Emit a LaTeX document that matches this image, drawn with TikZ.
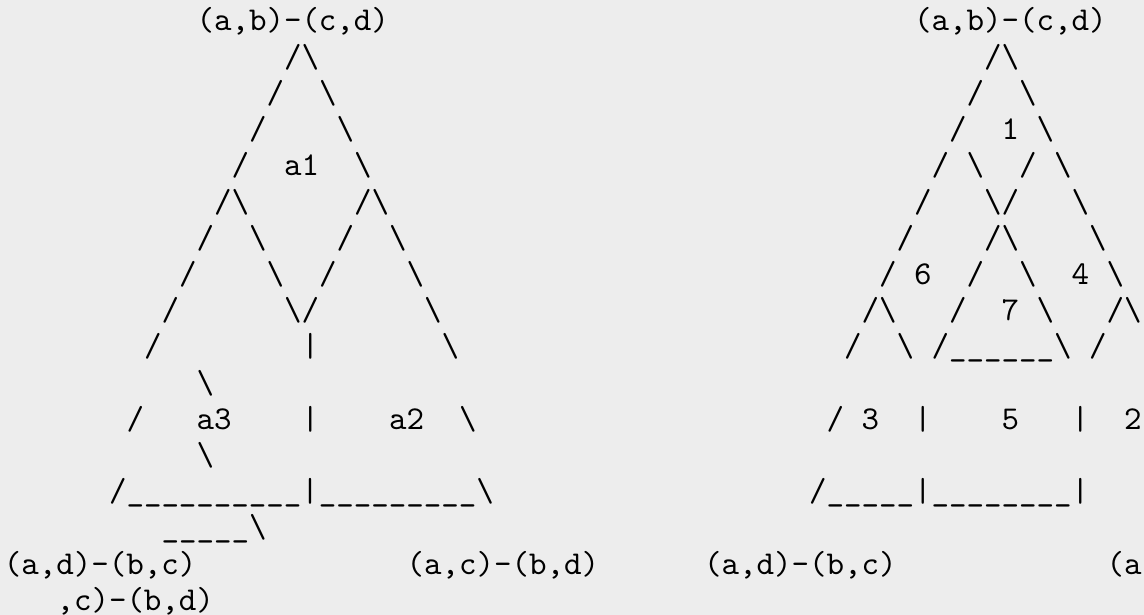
\documentclass[tikz,border=0pt]{standalone}
\usepackage{fontspec}
\newfontfamily\asciifont{lmmono10-regular.otf}
\newcommand\BSL{\textbackslash}
\newcommand\USC{\_}
\newcommand\USCv{\USC\USC\USC\USC\USC}
\definecolor{bgc}{HTML}{EDEDED}
\tikzset{txt/.style={anchor=base west, inner sep=0pt, outer sep=0pt, text=black,
  font=\asciifont\fontsize{33.333pt}{36pt}\selectfont}}
\begin{document}
\begin{tikzpicture}[x=17.5pt, y=-36.2pt]
\fill[bgc] (0pt,0pt) rectangle (1144pt,-615pt);
\useasboundingbox (0pt,0pt) rectangle (1144pt,-615pt);
\begin{scope}[shift={(4pt,-31pt)}]
% row 0
\node[txt] (r0a) at (11,0) {(a,b)-(c,d)};
\node[txt] (r0b) at (52,0) {(a,b)-(c,d)};
% row 1
\node[txt] (r1a) at (16,1) {/\BSL};
\node[txt] (r1b) at (56,1) {/\BSL};
% row 2
\node[txt] (r2a) at (15,2) {/};
\node[txt] (r2b) at (18,2) {\BSL};
\node[txt] (r2c) at (55,2) {/};
\node[txt] (r2d) at (58,2) {\BSL};
% row 3
\node[txt] (r3a) at (14,3) {/};
\node[txt] (r3b) at (19,3) {\BSL};
\node[txt] (r3c) at (54,3) {/};
\node[txt] (r3d) at (57,3) {1};
\node[txt] (r3e) at (59,3) {\BSL};
% row 4
\node[txt] (r4a) at (13,4) {/};
\node[txt] (r4b) at (16,4) {a1};
\node[txt] (r4c) at (20,4) {\BSL};
\node[txt] (r4d) at (53,4) {/};
\node[txt] (r4e) at (55,4) {\BSL};
\node[txt] (r4f) at (58,4) {/};
\node[txt] (r4g) at (60,4) {\BSL};
% row 5
\node[txt] (r5a) at (12,5) {/\BSL};
\node[txt] (r5b) at (20,5) {/\BSL};
\node[txt] (r5c) at (52,5) {/};
\node[txt] (r5d) at (56,5) {\BSL/};
\node[txt] (r5e) at (61,5) {\BSL};
% row 6
\node[txt] (r6a) at (11,6) {/};
\node[txt] (r6b) at (14,6) {\BSL};
\node[txt] (r6c) at (19,6) {/};
\node[txt] (r6d) at (22,6) {\BSL};
\node[txt] (r6e) at (51,6) {/};
\node[txt] (r6f) at (56,6) {/\BSL};
\node[txt] (r6g) at (62,6) {\BSL};
% row 7
\node[txt] (r7a) at (10,7) {/};
\node[txt] (r7b) at (15,7) {\BSL};
\node[txt] (r7c) at (18,7) {/};
\node[txt] (r7d) at (23,7) {\BSL};
\node[txt] (r7e) at (50,7) {/};
\node[txt] (r7f) at (52,7) {6};
\node[txt] (r7g) at (55,7) {/};
\node[txt] (r7h) at (58,7) {\BSL};
\node[txt] (r7i) at (61,7) {4};
\node[txt] (r7j) at (63,7) {\BSL};
% row 8
\node[txt] (r8a) at (9,8) {/};
\node[txt] (r8b) at (16,8) {\BSL/};
\node[txt] (r8c) at (24,8) {\BSL};
\node[txt] (r8d) at (49,8) {/\BSL};
\node[txt] (r8e) at (54,8) {/};
\node[txt] (r8f) at (57,8) {7};
\node[txt] (r8g) at (59,8) {\BSL};
\node[txt] (r8h) at (63,8) {/\BSL};
% row 9
\node[txt] (r9a) at (8,9) {/};
\node[txt] (r9b) at (17,9) {|};
\node[txt] (r9c) at (25,9) {\BSL};
\node[txt] (r9d) at (48,9) {/};
\node[txt] (r9e) at (51,9) {\BSL};
\node[txt] (r9f) at (53,9) {/\USCv\USC\BSL};
\node[txt] (r9g) at (62,9) {/};
% row 10
\node[txt] (r10a) at (11,10) {\BSL};
% row 11
\node[txt] (r11a) at (7,11) {/};
\node[txt] (r11b) at (11,11) {a3};
\node[txt] (r11c) at (17,11) {|};
\node[txt] (r11d) at (22,11) {a2};
\node[txt] (r11e) at (26,11) {\BSL};
\node[txt] (r11f) at (47,11) {/};
\node[txt] (r11g) at (49,11) {3};
\node[txt] (r11h) at (52,11) {|};
\node[txt] (r11i) at (57,11) {5};
\node[txt] (r11j) at (61,11) {|};
\node[txt] (r11k) at (64,11) {2};
% row 12
\node[txt] (r12a) at (11,12) {\BSL};
% row 13
\node[txt] (r13a) at (6,13) {/\USCv\USCv|\USCv\USC\USC\USC\USC\BSL};
\node[txt] (r13b) at (46,13) {/\USCv|\USCv\USC\USC\USC|};
% row 14
\node[txt] (r14a) at (9,14) {\USCv\BSL};
% row 15
\node[txt] (r15a) at (0,15) {(a,d)-(b,c)};
\node[txt] (r15b) at (23,15) {(a,c)-(b,d)};
\node[txt] (r15c) at (40,15) {(a,d)-(b,c)};
\node[txt] (r15d) at (63,15) {(a};
% row 16
\node[txt] (r16a) at (3,16) {,c)-(b,d)};
\end{scope}
\end{tikzpicture}
\end{document}
